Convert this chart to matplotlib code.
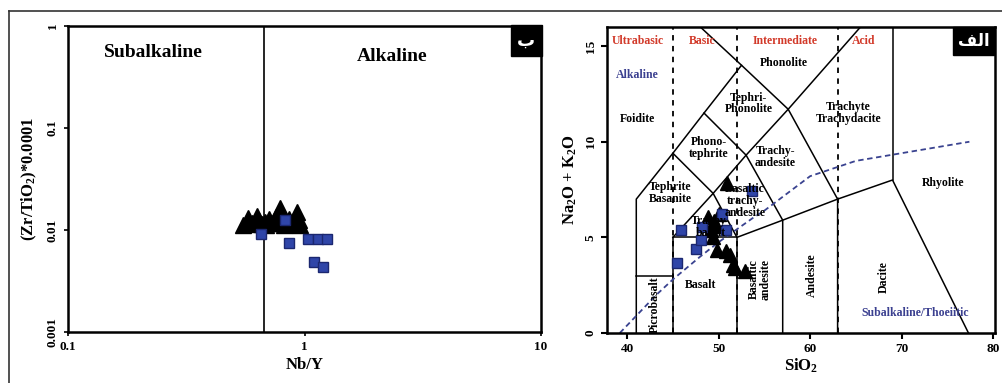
import matplotlib
matplotlib.use('Agg')
import matplotlib.pyplot as plt
from matplotlib.lines import Line2D

plt.rcParams['font.family'] = ['Liberation Serif', 'DejaVu Sans']
plt.rcParams['font.weight'] = 'bold'
plt.rcParams['axes.labelweight'] = 'bold'
plt.rcParams['mathtext.fontset'] = 'custom'
plt.rcParams['mathtext.rm'] = 'Liberation Serif:bold'
plt.rcParams['mathtext.it'] = 'Liberation Serif:bold'
plt.rcParams['mathtext.bf'] = 'Liberation Serif:bold'

# Left panel: Nb/Y vs Zr/TiO2 (Pearce 1996)
tri_nby = [0.55, 0.576, 0.60, 0.63, 0.66, 0.69, 0.71, 0.74, 0.76, 0.787, 0.80, 0.83, 0.86, 0.89, 0.93, 0.96,
           0.58, 0.64, 0.68, 0.72, 0.78, 0.82, 0.875, 0.91, 0.945]
tri_zr = [0.0112, 0.0131, 0.0118, 0.0137, 0.0115, 0.0112, 0.0128, 0.0120, 0.0135, 0.0165, 0.0125, 0.0118, 0.0128, 0.0120, 0.0150, 0.0112,
          0.0115, 0.0122, 0.0120, 0.0116, 0.0118, 0.0112, 0.0114, 0.0115, 0.0124]
sq_nby = [0.655, 0.827, 0.859, 1.035, 1.14, 1.245, 1.10, 1.20]
sq_zr = [0.0091, 0.0125, 0.00746, 0.00816, 0.0082, 0.0082, 0.00485, 0.00434]
nby_split = 0.674

# Right panel: TAS diagram
tri_si = [50.9, 48.8, 49.5, 50.0, 49.2, 49.6, 49.4, 49.8, 50.8, 51.2, 51.6, 51.8, 52.9]
tri_alk = [7.85, 6.05, 5.85, 6.2, 5.4, 5.6, 5.0, 4.35, 4.3, 4.1, 3.55, 3.4, 3.25]
sq_si = [45.4, 45.9, 47.5, 48.05, 48.2, 50.35, 50.8, 53.6]
sq_alk = [3.68, 5.36, 4.38, 4.87, 5.53, 6.23, 5.36, 7.45]

tas_lines = [
    [(41, 0), (41, 7), (45, 9.4), (48.4, 11.5), (52.5, 14), (57.6, 11.7), (63, 7), (63, 0)],
    [(41, 3), (45, 3)],
    [(45, 0), (45, 5), (52, 5), (52, 0)],
    [(45, 5), (49.4, 7.3), (53, 9.3), (57.6, 11.7), (65.5, 16)],
    [(45, 9.4), (49.4, 7.3), (52, 5), (57, 5.9), (63, 7), (69, 8), (77.3, 0)],
    [(48.4, 11.5), (53, 9.3), (57, 5.9), (57, 0)],
    [(48, 16), (52.5, 14)],
    [(69, 8), (69, 16)],
]
dashed_x = [45, 52, 63]
ib_si = [39.2, 40, 43.2, 45, 48, 50, 53.7, 55, 60, 65, 77.4]
ib_alk = [0, 0.4, 2, 2.8, 4, 4.75, 6, 6.4, 8.2, 9, 10]

red_labels = [('Ultrabasic', 41.2), ('Basic', 48.2), ('Intermediate', 57.3), ('Acid', 65.8)]
field_labels = [
    ('Foidite', 41.1, 11.2, 0), ('Phonolite', 57.1, 14.1, 0), ('Tephri-\nPhonolite', 53.3, 12.0, 0),
    ('Trachyte\nTrachydacite', 64.2, 11.5, 0), ('Phono-\ntephrite', 48.9, 9.65, 0),
    ('Trachy-\nandesite', 56.2, 9.2, 0), ('Tephrite\nBasanite', 44.7, 7.3, 0),
    ('Basaltic\ntrachy-\nandesite', 52.9, 6.9, 0), ('Trachy-\nbasalt', 49.1, 5.55, 0),
    ('Rhyolite', 74.5, 7.86, 0), ('Basalt', 48.0, 2.5, 0), ('Picrobasalt', 43.0, 1.5, 90),
    ('Basaltic\nandesite', 54.5, 2.8, 90), ('Andesite', 60.2, 3.0, 90), ('Dacite', 68.0, 2.95, 90),
]

W, H = 1003, 383
fig = plt.figure(figsize=(W / 100, H / 100), dpi=100)
ax1 = fig.add_axes([68 / W, 1 - 332 / H, (541 - 68) / W, (332 - 26) / H])
ax2 = fig.add_axes([607 / W, 1 - 333 / H, (995 - 607) / W, (333 - 27) / H])

sq_face, sq_edge = '#2f45a8', '#1b2770'
blue_txt = '#3b4090'
red_txt = '#d23a2a'

# ---- left panel
ax1.set_xscale('log')
ax1.set_yscale('log')
ax1.set_xlim(0.1, 10)
ax1.set_ylim(0.001, 1)
ax1.axvline(nby_split, color='black', lw=1.2)
ax1.plot(tri_nby, tri_zr, '^', color='black', ms=12, ls='none')
ax1.plot(sq_nby, sq_zr, 's', mfc=sq_face, mec=sq_edge, ms=7, ls='none')
ax1.set_xticks([0.1, 1, 10])
ax1.set_xticklabels(['0.1', '1', '10'])
ax1.set_yticks([0.001, 0.01, 0.1, 1])
ax1.set_yticklabels(['0.001', '0.01', '0.1', '1'], rotation=90, va='center')
ax1.minorticks_off()
ax1.tick_params(labelsize=9.5, length=3, width=1.2)
ax1.set_xlabel('Nb/Y', fontsize=12, labelpad=3)
ax1.set_ylabel('(Zr/TiO$_2$)*0.0001', fontsize=12, labelpad=6)
ax1.text(0.18, 0.915, 'Subalkaline', transform=ax1.transAxes, ha='center', va='center', fontsize=14)
ax1.text(0.686, 0.90, 'Alkaline', transform=ax1.transAxes, ha='center', va='center', fontsize=14)
ax1.text(0.969, 0.953, '\uFE8F', transform=ax1.transAxes, ha='center', va='center', fontsize=13,
         color='white', family='DejaVu Sans',
         bbox=dict(boxstyle='square,pad=0.35', fc='black', ec='black'))

# ---- right panel
ax2.set_xlim(37.8, 80.2)
ax2.set_ylim(0, 16)
for x in dashed_x:
    ax2.plot([x, x], [0, 16], color='black', lw=1.3, ls=(0, (3, 3)))
for pts in tas_lines:
    xs, ys = zip(*pts)
    ax2.plot(xs, ys, color='black', lw=1.1)
ax2.plot(ib_si, ib_alk, color='#3a4390', lw=1.3, ls=(0, (3, 2)))
ax2.plot(tri_si, tri_alk, '^', color='black', ms=9.5, ls='none')
ax2.plot(sq_si, sq_alk, 's', mfc=sq_face, mec=sq_edge, ms=7, ls='none')

for name, x in red_labels:
    ax2.text(x, 15.25, name, color=red_txt, ha='center', va='center', fontsize=8.5)
for name, x, y, rot in field_labels:
    ax2.text(x, y, name, ha='center', va='center', fontsize=8.5, rotation=rot, linespacing=1.0)
ax2.text(41.1, 13.5, 'Alkaline', color=blue_txt, ha='center', va='center', fontsize=8.5)
ax2.text(71.5, 1.05, 'Subalkaline/Thoeiitic', color=blue_txt, ha='center', va='center', fontsize=8.5)
ax2.text(0.945, 0.954, '\uFED2\uFEDF\uFE8D', transform=ax2.transAxes, ha='center', va='center',
         fontsize=12, color='white', family='DejaVu Sans',
         bbox=dict(boxstyle='square,pad=0.3', fc='black', ec='black'))

ax2.set_xticks([40, 50, 60, 70, 80])
ax2.set_yticks([0, 5, 10, 15])
ax2.set_yticklabels(['0', '5', '10', '15'], rotation=90, va='center')
ax2.tick_params(labelsize=9.5, length=4, width=1.5)
ax2.set_xlabel('SiO$_2$', fontsize=12, labelpad=1)
ax2.set_ylabel('Na$_2$O + K$_2$O', fontsize=12, labelpad=4)

for ax in (ax1, ax2):
    for s in ax.spines.values():
        s.set_linewidth(1.8)

# outer frame (top and left edges)
fig.add_artist(Line2D([9 / W, 1], [1 - 10.5 / H, 1 - 10.5 / H], color='#333333', lw=1.2))
fig.add_artist(Line2D([9 / W, 9 / W], [0, 1 - 10.5 / H], color='#333333', lw=1.2))

fig.savefig('out.png', dpi=100)
